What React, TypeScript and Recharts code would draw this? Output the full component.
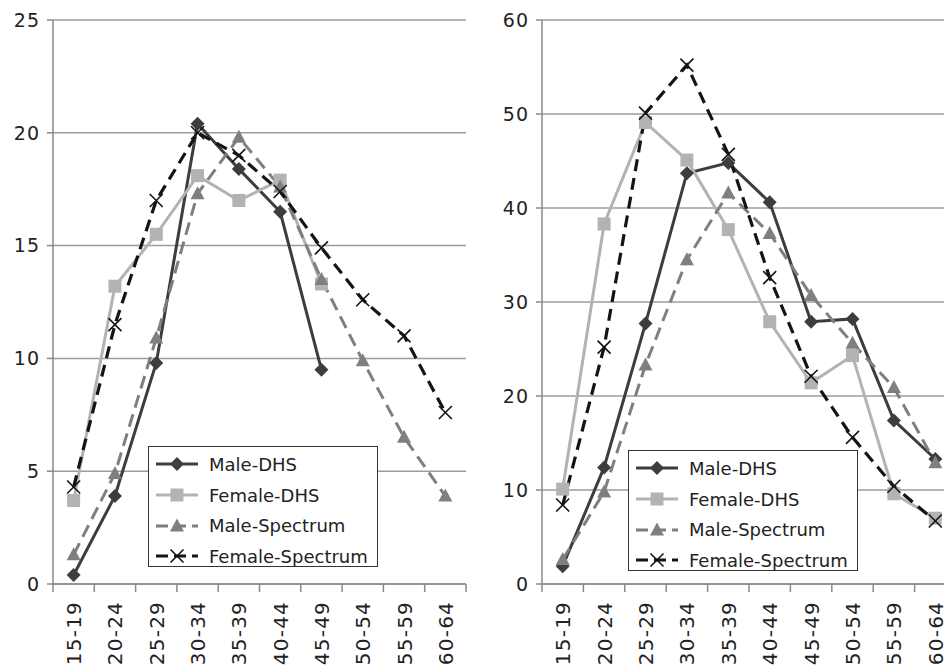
import { LineChart, Line, XAxis, YAxis, CartesianGrid } from "recharts";

const AGE_GROUPS = ["15-19", "20-24", "25-29", "30-34", "35-39", "40-44", "45-49", "50-54", "55-59", "60-64"];

// left panel
const leftMaleDhs = [0.4, 3.9, 9.8, 20.4, 18.4, 16.5, 9.5, null, null, null];
const leftFemaleDhs = [3.7, 13.2, 15.5, 18.1, 17.0, 17.9, 13.3, null, null, null];
const leftMaleSpectrum = [1.3, 4.9, 10.9, 17.3, 19.8, 17.6, 13.5, 9.9, 6.5, 3.9];
const leftFemaleSpectrum = [4.3, 11.5, 17.0, 20.0, 19.0, 17.4, 14.9, 12.6, 11.0, 7.6];
const leftTicks = [0, 5, 10, 15, 20, 25];

// right panel
const rightMaleDhs = [1.9, 12.4, 27.7, 43.7, 44.8, 40.6, 27.9, 28.2, 17.4, 13.3];
const rightFemaleDhs = [10.1, 38.3, 49.1, 45.1, 37.7, 27.9, 21.4, 24.3, 9.6, 7.0];
const rightMaleSpectrum = [2.6, 9.8, 23.3, 34.5, 41.6, 37.3, 30.7, 25.6, 20.9, 12.9];
const rightFemaleSpectrum = [8.4, 25.2, 50.1, 55.2, 45.7, 32.6, 22.1, 15.6, 10.4, 6.7];
const rightTicks = [0, 10, 20, 30, 40, 50, 60];

const SERIES = [
  { key: "maleDhs", name: "Male-DHS", color: "#3d3d3d", dash: undefined, width: 3, marker: "diamond" },
  { key: "femaleDhs", name: "Female-DHS", color: "#b3b3b3", dash: undefined, width: 3, marker: "square" },
  { key: "maleSpectrum", name: "Male-Spectrum", color: "#7f7f7f", dash: "13 7", width: 3, marker: "triangle" },
  { key: "femaleSpectrum", name: "Female-Spectrum", color: "#141414", dash: "12 7", width: 3.2, marker: "x" },
];

const buildRows = (a: any[], b: any[], c: any[], d: any[]) =>
  AGE_GROUPS.map((age, i) => ({
    age,
    maleDhs: a[i],
    femaleDhs: b[i],
    maleSpectrum: c[i],
    femaleSpectrum: d[i],
  }));

const leftData = buildRows(leftMaleDhs, leftFemaleDhs, leftMaleSpectrum, leftFemaleSpectrum);
const rightData = buildRows(rightMaleDhs, rightFemaleDhs, rightMaleSpectrum, rightFemaleSpectrum);

const FONT = "'DejaVu Sans', sans-serif";
const AXIS = "#8a8a8a";
const GRID = "#9c9c9c";
const TEXT = "#222";

const Marker = ({ type, cx, cy, color }: any) => {
  if (cx == null || cy == null) return null;
  if (type === "diamond")
    return <path d={`M${cx},${cy - 7} L${cx + 7},${cy} L${cx},${cy + 7} L${cx - 7},${cy} Z`} fill={color} />;
  if (type === "square") return <rect x={cx - 6.5} y={cy - 6.5} width={13} height={13} fill={color} />;
  if (type === "triangle")
    return <path d={`M${cx},${cy - 7.5} L${cx + 7},${cy + 5.5} L${cx - 7},${cy + 5.5} Z`} fill={color} />;
  return (
    <g stroke={color} strokeWidth={1.6}>
      <line x1={cx - 6.5} y1={cy - 6.5} x2={cx + 6.5} y2={cy + 6.5} />
      <line x1={cx - 6.5} y1={cy + 6.5} x2={cx + 6.5} y2={cy - 6.5} />
    </g>
  );
};

const makeDot = (type: string, color: string) => (props: any) => {
  if (props.value == null) return <g key={props.key} />;
  return <Marker key={props.key} type={type} cx={props.cx} cy={props.cy} color={color} />;
};

const makeXTick = (half: number) => (props: any) => {
  const { x, y, payload, index } = props;
  const tx = x + 7.5;
  const ty = y + 17;
  return (
    <g>
      <line x1={x + half} x2={x + half} y1={y} y2={y + 8} stroke={AXIS} strokeWidth={1.5} />
      {index === 0 && <line x1={x - half} x2={x - half} y1={y} y2={y + 8} stroke={AXIS} strokeWidth={1.5} />}
      <text
        x={tx}
        y={ty}
        transform={`rotate(-90 ${tx} ${ty})`}
        textAnchor="end"
        fill={TEXT}
        fontSize={20}
        fontFamily={FONT}
        letterSpacing={1.2}
      >
        {payload.value}
      </text>
    </g>
  );
};

const LegendBox = ({ left, top }: any) => (
  <div
    style={{
      position: "absolute",
      left,
      top,
      width: 230,
      height: 121,
      background: "#fff",
      border: "1.5px solid #333",
      fontFamily: FONT,
      fontSize: 18,
      color: TEXT,
      boxSizing: "border-box",
      paddingTop: 2,
    }}
  >
    {SERIES.map((s) => (
      <div key={s.key} style={{ display: "flex", alignItems: "center", height: 30.7, whiteSpace: "nowrap" }}>
        <svg width={54} height={20} style={{ marginLeft: 6, flexShrink: 0 }}>
          <line x1={1} x2={43} y1={10} y2={10} stroke={s.color} strokeWidth={3} strokeDasharray={s.dash ? "12 6" : undefined} />
          <Marker type={s.marker} cx={22} cy={10} color={s.color} />
        </svg>
        <span>{s.name}</span>
      </div>
    ))}
  </div>
);

const Panel = ({ data, ticks, max, yWidth, plotW, left }: any) => {
  const height = 665;
  const width = yWidth + plotW + 4;
  const half = plotW / 20;
  return (
    <div style={{ position: "absolute", left, top: 0 }}>
      <LineChart width={width} height={height} data={data} margin={{ top: 20, right: 4, bottom: 0, left: 0 }}>
        <CartesianGrid horizontal vertical={false} stroke={GRID} strokeWidth={1.5} />
        <XAxis
          dataKey="age"
          height={81}
          interval={0}
          padding={{ left: half, right: half }}
          tickSize={0}
          tickMargin={0}
          axisLine={{ stroke: AXIS, strokeWidth: 1.5 }}
          tickLine={false}
          tick={makeXTick(half)}
        />
        <YAxis
          width={yWidth}
          domain={[0, max]}
          ticks={ticks}
          interval={0}
          tickSize={6}
          tickMargin={7}
          axisLine={{ stroke: AXIS, strokeWidth: 1.5 }}
          tickLine={{ stroke: AXIS, strokeWidth: 1.5 }}
          tick={{ fill: TEXT, fontSize: 19, fontFamily: FONT, letterSpacing: 1 }}
        />
        {SERIES.map((s) => (
          <Line
            key={s.key}
            dataKey={s.key}
            name={s.name}
            type="linear"
            stroke={s.color}
            strokeWidth={s.width}
            strokeDasharray={s.dash}
            dot={makeDot(s.marker, s.color)}
            activeDot={false}
            connectNulls={false}
            isAnimationActive={false}
          />
        ))}
      </LineChart>
    </div>
  );
};

const App = () => (
  <div style={{ position: "fixed", left: 0, top: 0, width: 944, height: 665, overflow: "hidden", background: "#fff" }}>
    <Panel data={leftData} ticks={leftTicks} max={25} yWidth={53} plotW={413} left={0} />
    <Panel data={rightData} ticks={rightTicks} max={60} yWidth={62} plotW={414} left={480} />
    <LegendBox left={148} top={446} />
    <LegendBox left={628} top={450} />
  </div>
);

export default App;
